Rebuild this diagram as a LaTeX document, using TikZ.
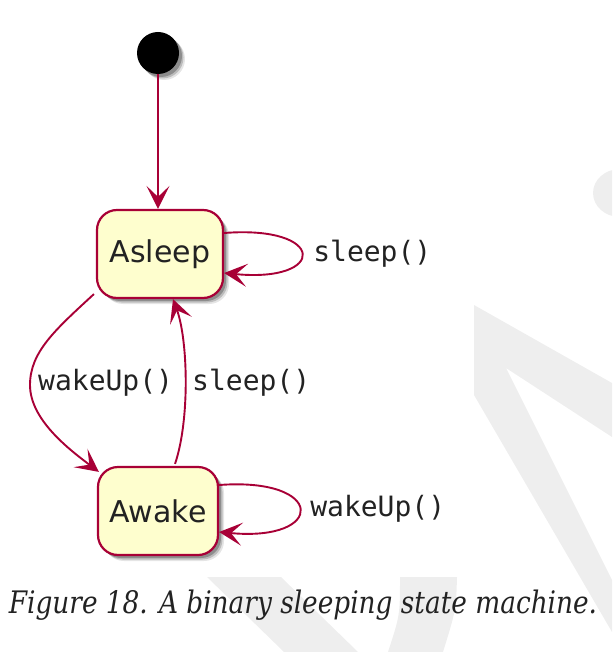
\documentclass[tikz,border=0pt]{standalone}
\usepackage{fontspec}
\setmainfont{DejaVu Sans}
\setmonofont{DejaVu Sans Mono}
\newfontfamily\capfont{DejaVu Serif}
\usepackage{tikz}
\usetikzlibrary{arrows.meta,positioning,calc,shadows}
\usepackage{xcolor}
\definecolor{edge}{HTML}{A80036}
\definecolor{statefill}{HTML}{FEFECE}
\definecolor{ink}{HTML}{222222}
\definecolor{wmark}{HTML}{EEEEEE}
\tikzset{
  shade/.style={drop shadow={shadow xshift=6pt,shadow yshift=-6pt,fill=black,opacity=.10},
    drop shadow={shadow xshift=4.5pt,shadow yshift=-4.5pt,fill=black,opacity=.18},
    drop shadow={shadow xshift=3pt,shadow yshift=-3pt,fill=black,opacity=.25}},
  state/.style={draw=edge,line width=2.2pt,fill=statefill,rounded corners=20pt,
    minimum height=88pt,inner sep=0pt,text=ink,font=\fontsize{30}{34}\selectfont,shade},
  init/.style={circle,fill=black,minimum size=42pt,inner sep=0pt,shade},
  tr/.style={draw=edge,line width=1.9pt,-{Stealth[length=23pt,width=23pt,inset=11pt]}},
  lbl/.style={font=\ttfamily\fontsize{28}{32}\selectfont,text=ink,inner sep=0pt},
}

\begin{document}
\begin{tikzpicture}[x=1pt,y=-1pt]
  \useasboundingbox (0,0) rectangle (612,652);
  % watermark in the background
  \begin{scope}
    \clip (0,0) rectangle (612,652);
    \fill[wmark] (474,305) -- (612,383) -- (612,437) -- (506,368) -- (612,580)
      -- (612,632) -- (474,395) -- cycle;
    \fill[wmark] (620,193) ellipse [x radius=27,y radius=24];
    \fill[wmark] (207,577) -- (281,577) -- (358,652) -- (284,652) -- cycle;
    \fill[wmark] (400,577) -- (457,577) .. controls (456,610) .. (443,652)
      -- (388,652) .. controls (400,615) .. cycle;
  \end{scope}

  % states
  \node[init] (start) at (158,53) {};
  \node[state,minimum width=126pt] (asleep) at (160,254) {Asleep};
  \node[state,minimum width=120pt] (awake) at (158,511) {Awake};

  % transitions
  \draw[tr] (start.south) -- (start.south |- asleep.north);
  \draw[tr] ($(asleep.east)+(0,-21)$) .. controls +(103,-8) and +(103,10)
    .. node[lbl,pos=.5,right=11pt] {sleep()} ($(asleep.east)+(0,19)$);
  \draw[tr] ($(asleep.south west)+(-2,-5)$) .. controls (55,330) and (30,352)
    .. (30,385) coordinate (bend) .. controls (30,420) and (70,450) .. ($(awake.north west)+(2,6)$);
  \node[lbl,anchor=west] (lwake) at (38,383) {wakeUp()};
  \draw[tr] ($(awake.north)+(17,-2)$) .. controls (190,420) and (188,340)
    .. ($(asleep.south)+(13,0)$);
  \node[lbl,anchor=west] (lsleep) at (192,383) {sleep()};
  \draw[tr] ($(awake.east)+(0,-26)$) .. controls +(107,-8) and +(107,10)
    .. node[lbl,pos=.5,right=10pt] {wakeUp()} ($(awake.east)+(0,21)$);

  % caption
  \node[text=ink,font=\capfont\itshape\fontsize{31}{36}\selectfont] (cap) at (303,605)
    {\scalebox{.85}[1]{Figure 18. A binary sleeping state machine.}};
\end{tikzpicture}
\end{document}
